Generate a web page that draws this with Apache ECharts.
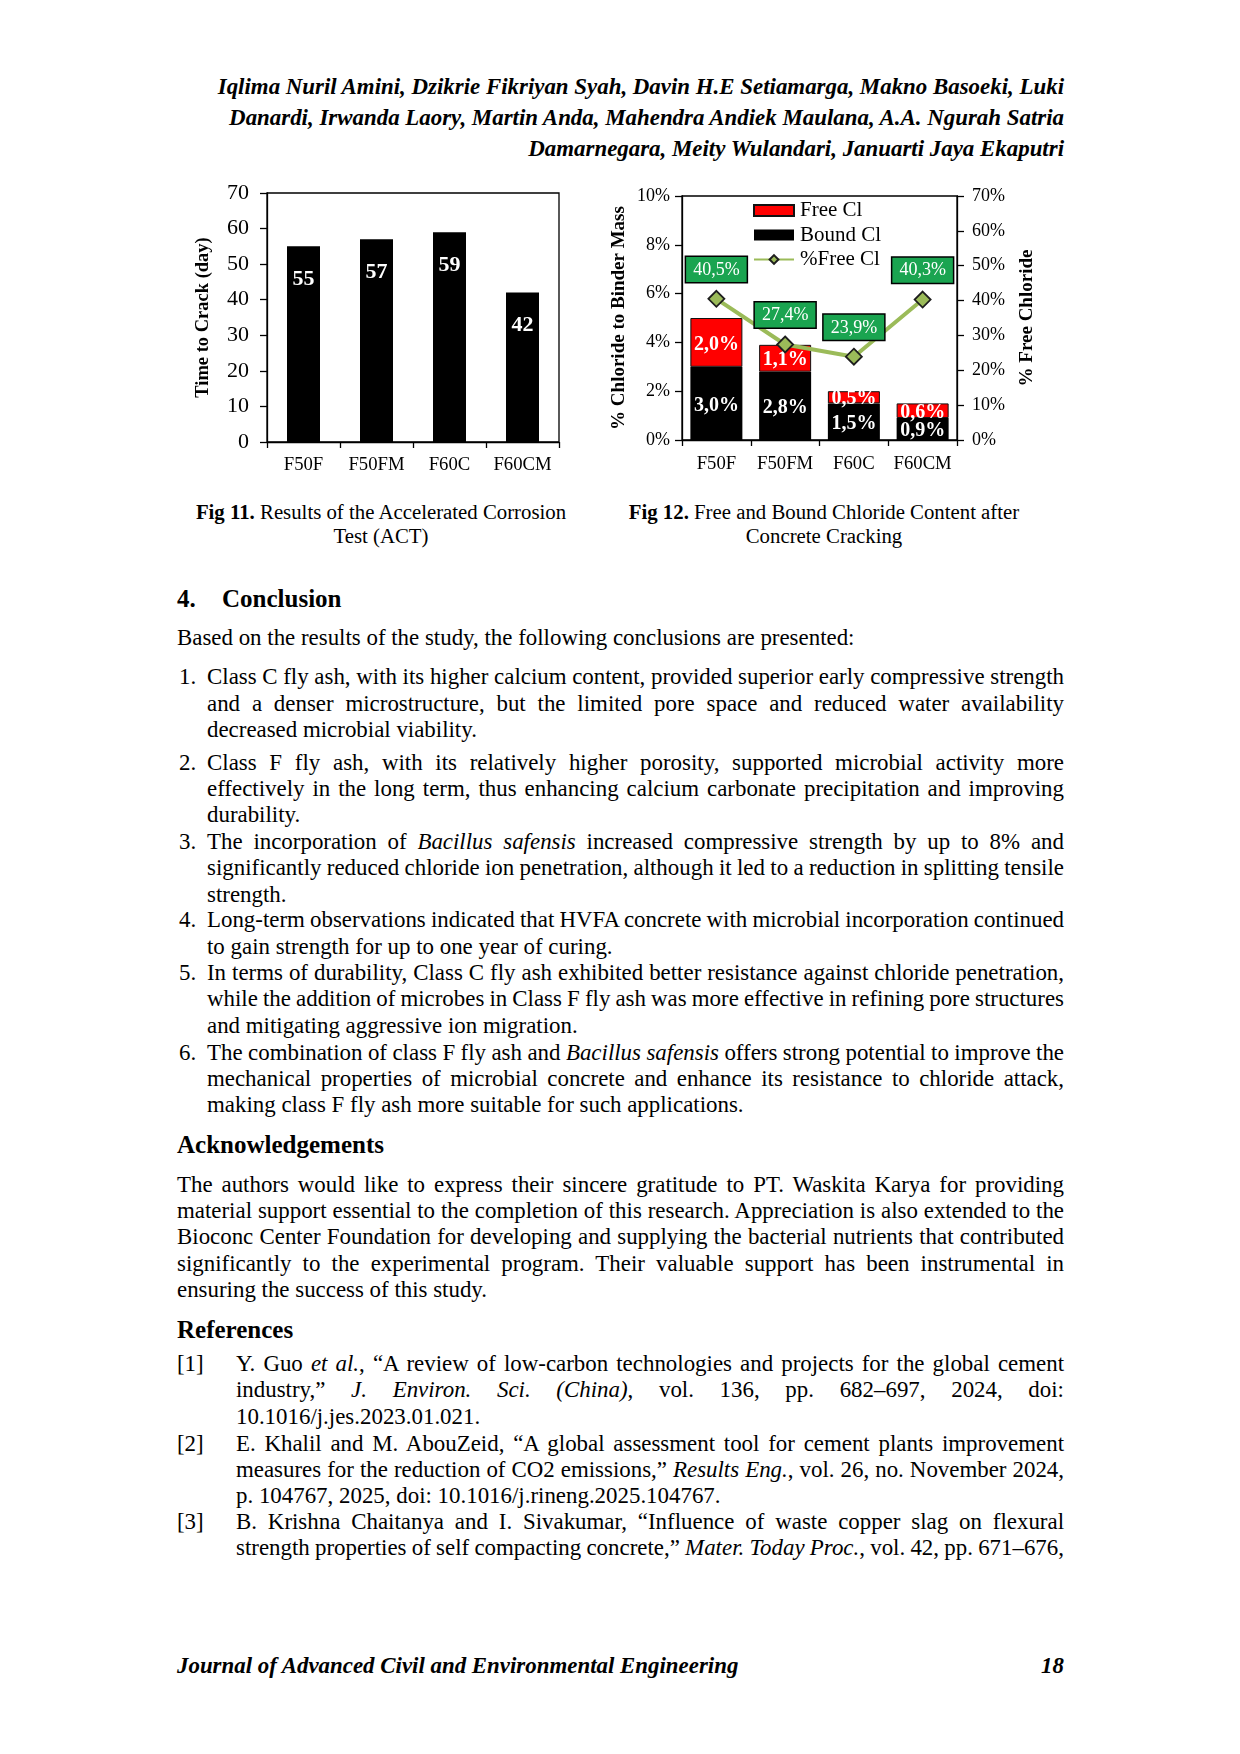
<!DOCTYPE html>
<html lang="en">
<head>
<meta charset="utf-8">
<script src="https://cdn.jsdelivr.net/npm/echarts@6/dist/echarts.min.js"></script>
<style>
  html, body { margin: 0; padding: 0; background: #fff; }
  body { width: 1240px; height: 1754px; position: relative; overflow: hidden;
         font-family: 'Liberation Serif', 'Times New Roman', serif; color: #000; }
  .abs { position: absolute; }
  .body { font-size: 22.9px; line-height: 26.35px; }
  .l { display: block; white-space: nowrap; }
  .j { text-align: justify; text-align-last: justify; word-spacing: -1.5px; }
  .hd { font-size: 25px; line-height: 28.75px; font-weight: bold; }
  .cap { font-size: 20.8px; line-height: 24.6px; text-align: center; }
</style>
</head>
<body>

<!-- authors header -->
<div class="abs" style="top:72px; right:176px; font-size:22.9px; line-height:30.8px; font-weight:bold; font-style:italic; text-align:right;">
  <span class="l">Iqlima Nuril Amini, Dzikrie Fikriyan Syah, Davin H.E Setiamarga, Makno Basoeki, Luki</span>
  <span class="l">Danardi, Irwanda Laory, Martin Anda, Mahendra Andiek Maulana, A.A. Ngurah Satria</span>
  <span class="l">Damarnegara, Meity Wulandari, Januarti Jaya Ekaputri</span>
</div>

<div id="fig" class="abs" style="left:0; top:160px; width:1240px; height:340px;"></div>

<div class="abs cap" style="top:499.5px; left:171px; width:420px;"><b>Fig 11.</b> Results of the Accelerated Corrosion<br>Test (ACT)</div>
<div class="abs cap" style="top:499.5px; left:614px; width:420px;"><b>Fig 12.</b> Free and Bound Chloride Content after<br>Concrete Cracking</div>

<div class="abs hd" style="top:584.8px; left:177px;">4.</div>
<div class="abs hd" style="top:584.8px; left:222px;">Conclusion</div>

<div class="abs body" style="top:625.2px; left:177px;">Based on the results of the study, the following conclusions are presented:</div>

<div class="abs body" style="top:664.4px; left:179px;">1.</div>
<div class="abs body" style="top:664.4px; left:207px; width:857px;">
  <span class="l j">Class C fly ash, with its higher calcium content, provided superior early compressive strength</span>
  <span class="l j">and a denser microstructure, but the limited pore space and reduced water availability</span>
  <span class="l">decreased microbial viability.</span>
</div>

<div class="abs body" style="top:749.5px; left:179px;">2.</div>
<div class="abs body" style="top:749.5px; left:207px; width:857px;">
  <span class="l j">Class F fly ash, with its relatively higher porosity, supported microbial activity more</span>
  <span class="l j">effectively in the long term, thus enhancing calcium carbonate precipitation and improving</span>
  <span class="l">durability.</span>
</div>

<div class="abs body" style="top:829px; left:179px;">3.</div>
<div class="abs body" style="top:829px; left:207px; width:857px;">
  <span class="l j">The incorporation of <i>Bacillus safensis</i> increased compressive strength by up to 8% and</span>
  <span class="l j">significantly reduced chloride ion penetration, although it led to a reduction in splitting tensile</span>
  <span class="l">strength.</span>
</div>

<div class="abs body" style="top:907.4px; left:179px;">4.</div>
<div class="abs body" style="top:907.4px; left:207px; width:857px;">
  <span class="l j">Long-term observations indicated that HVFA concrete with microbial incorporation continued</span>
  <span class="l">to gain strength for up to one year of curing.</span>
</div>

<div class="abs body" style="top:960.1px; left:179px;">5.</div>
<div class="abs body" style="top:960.1px; left:207px; width:857px;">
  <span class="l j">In terms of durability, Class C fly ash exhibited better resistance against chloride penetration,</span>
  <span class="l j">while the addition of microbes in Class F fly ash was more effective in refining pore structures</span>
  <span class="l">and mitigating aggressive ion migration.</span>
</div>

<div class="abs body" style="top:1039.6px; left:179px;">6.</div>
<div class="abs body" style="top:1039.6px; left:207px; width:857px;">
  <span class="l j">The combination of class F fly ash and <i>Bacillus safensis</i> offers strong potential to improve the</span>
  <span class="l j">mechanical properties of microbial concrete and enhance its resistance to chloride attack,</span>
  <span class="l">making class F fly ash more suitable for such applications.</span>
</div>

<div class="abs hd" style="top:1131.4px; left:177px;">Acknowledgements</div>
<div class="abs body" style="top:1171.8px; left:177px; width:887px;">
  <span class="l j">The authors would like to express their sincere gratitude to PT. Waskita Karya for providing</span>
  <span class="l j">material support essential to the completion of this research. Appreciation is also extended to the</span>
  <span class="l j">Bioconc Center Foundation for developing and supplying the bacterial nutrients that contributed</span>
  <span class="l j">significantly to the experimental program. Their valuable support has been instrumental in</span>
  <span class="l">ensuring the success of this study.</span>
</div>

<div class="abs hd" style="top:1316.2px; left:177px;">References</div>

<div class="abs body" style="top:1351px; left:177px;">[1]</div>
<div class="abs body" style="top:1351px; left:236px; width:828px;">
  <span class="l j">Y. Guo <i>et al.</i>, “A review of low-carbon technologies and projects for the global cement</span>
  <span class="l j">industry,” <i>J. Environ. Sci. (China)</i>, vol. 136, pp. 682–697, 2024, doi:</span>
  <span class="l">10.1016/j.jes.2023.01.021.</span>
</div>

<div class="abs body" style="top:1430.8px; left:177px;">[2]</div>
<div class="abs body" style="top:1430.8px; left:236px; width:828px;">
  <span class="l j">E. Khalil and M. AbouZeid, “A global assessment tool for cement plants improvement</span>
  <span class="l j">measures for the reduction of CO2 emissions,” <i>Results Eng.</i>, vol. 26, no. November 2024,</span>
  <span class="l">p. 104767, 2025, doi: 10.1016/j.rineng.2025.104767.</span>
</div>

<div class="abs body" style="top:1509px; left:177px;">[3]</div>
<div class="abs body" style="top:1509px; left:236px; width:828px;">
  <span class="l j">B. Krishna Chaitanya and I. Sivakumar, “Influence of waste copper slag on flexural</span>
  <span class="l j">strength properties of self compacting concrete,” <i>Mater. Today Proc.</i>, vol. 42, pp. 671–676,</span>
</div>

<div class="abs body" style="top:1652.5px; left:177px; font-weight:bold; font-style:italic;">Journal of Advanced Civil and Environmental Engineering</div>
<div class="abs body" style="top:1652.5px; right:176px; font-weight:bold; font-style:italic;">18</div>

<script type="text/javascript">
    // data
    const categories = ['F50F', 'F50FM', 'F60C', 'F60CM'];
    const timeToCrack = [55, 57, 59, 42];          // days
    const boundCl = [3.0, 2.8, 1.5, 0.9];          // % of binder mass
    const freeCl = [2.0, 1.1, 0.5, 0.6];           // % of binder mass
    const freeClShare = [40.5, 27.4, 23.9, 40.3];  // % free chloride

    const FONT = 'Liberation Serif';
    const pct = v => v + '%';
    const pctComma = v => v.toFixed(1).replace('.', ',') + '%';

    function xAxisOf(grid, margin) {
        return {
            type: 'category', gridIndex: grid, data: categories,
            axisLine: {lineStyle: {color: '#000', width: 1.3}},
            axisTick: {show: true, length: 6, alignWithLabel: false, lineStyle: {color: '#000', width: 1.3}},
            axisLabel: {interval: 0, color: '#000', fontFamily: FONT, fontSize: 18.7, margin: margin}
        };
    }

    function yAxisOf(grid, o) {
        return Object.assign({
            type: 'value', gridIndex: grid,
            axisLine: {show: true, lineStyle: {color: '#000', width: 1.3}},
            axisTick: {show: true, length: 7, lineStyle: {color: '#000', width: 1.3}},
            splitLine: {show: false},
            nameLocation: 'middle',
            nameTextStyle: {color: '#000', fontFamily: FONT, fontSize: 19, fontWeight: 'bold'}
        }, o);
    }

    let chart = echarts.init(document.getElementById('fig'));
    chart.setOption({
        animation: false,
        textStyle: {fontFamily: FONT},
        grid: [
            {left: 267, top: 33, width: 292, height: 249, show: true, borderColor: '#000', borderWidth: 1.3},
            {left: 682, top: 36, width: 275, height: 244, show: true, borderColor: '#000', borderWidth: 1.3}
        ],
        legend: {
            orient: 'vertical', left: 753, top: 40, padding: 0, itemGap: 3.5,
            itemWidth: 40, itemHeight: 11,
            textStyle: {color: '#000', fontFamily: FONT, fontSize: 21, lineHeight: 21, padding: [0, 0, 0, 1]},
            data: [{name: 'Free Cl', icon: 'rect'}, {name: 'Bound Cl', icon: 'rect'}, {name: '%Free Cl'}]
        },
        xAxis: [xAxisOf(0, 14), xAxisOf(1, 15)],
        yAxis: [
            yAxisOf(0, {
                min: 0, max: 70, interval: 10,
                axisLabel: {color: '#000', fontFamily: FONT, fontSize: 22, margin: 18},
                name: 'Time to Crack (day)', nameGap: 54,
                nameTextStyle: {color: '#000', fontFamily: FONT, fontSize: 18.5, fontWeight: 'bold'}
            }),
            yAxisOf(1, {
                min: 0, max: 10, interval: 2,
                axisLabel: {color: '#000', fontFamily: FONT, fontSize: 18, margin: 12, formatter: pct},
                name: '% Chloride to Binder Mass', nameGap: 53
            }),
            yAxisOf(1, {
                position: 'right', min: 0, max: 70, interval: 10,
                axisLabel: {color: '#000', fontFamily: FONT, fontSize: 18, margin: 15, formatter: pct},
                name: '% Free Chloride', nameGap: 61
            })
        ],
        series: [
            {
                name: 'Time to Crack', type: 'bar', xAxisIndex: 0, yAxisIndex: 0,
                data: timeToCrack, barWidth: 33, itemStyle: {color: '#000'},
                label: {show: true, position: 'insideTop', distance: 22, color: '#fff',
                        fontFamily: FONT, fontSize: 22, fontWeight: 'bold'}
            },
            {
                name: 'Bound Cl', type: 'bar', stack: 'cl', xAxisIndex: 1, yAxisIndex: 1,
                data: boundCl, barWidth: 52, itemStyle: {color: '#000'},
                label: {show: true, position: 'inside', offset: [0, 2], color: '#fff',
                        formatter: p => pctComma(p.value),
                        fontFamily: FONT, fontSize: 20, fontWeight: 'bold'}
            },
            {
                name: 'Free Cl', type: 'bar', stack: 'cl', xAxisIndex: 1, yAxisIndex: 1,
                data: freeCl, barWidth: 52, itemStyle: {color: '#ff0000', borderColor: '#111', borderWidth: 1},
                label: {show: true, position: 'inside', offset: [0, 2], color: '#fff',
                        formatter: p => pctComma(p.value),
                        fontFamily: FONT, fontSize: 20, fontWeight: 'bold'}
            },
            {
                name: '%Free Cl', type: 'line', xAxisIndex: 1, yAxisIndex: 2, z: 5,
                data: freeClShare, symbol: 'diamond', symbolSize: 16,
                lineStyle: {color: '#9bbb59', width: 4},
                itemStyle: {color: '#9bbb59', borderColor: '#1e1e1e', borderWidth: 1.8},
                label: {show: true, position: 'top', distance: 8, formatter: p => pctComma(p.value),
                        color: '#fff', fontFamily: FONT, fontSize: 18,
                        backgroundColor: '#1aa450', borderColor: '#000', borderWidth: 1.5,
                        padding: [4, 7, 3, 7]}
            }
        ]
    });
</script>
</body>
</html>
